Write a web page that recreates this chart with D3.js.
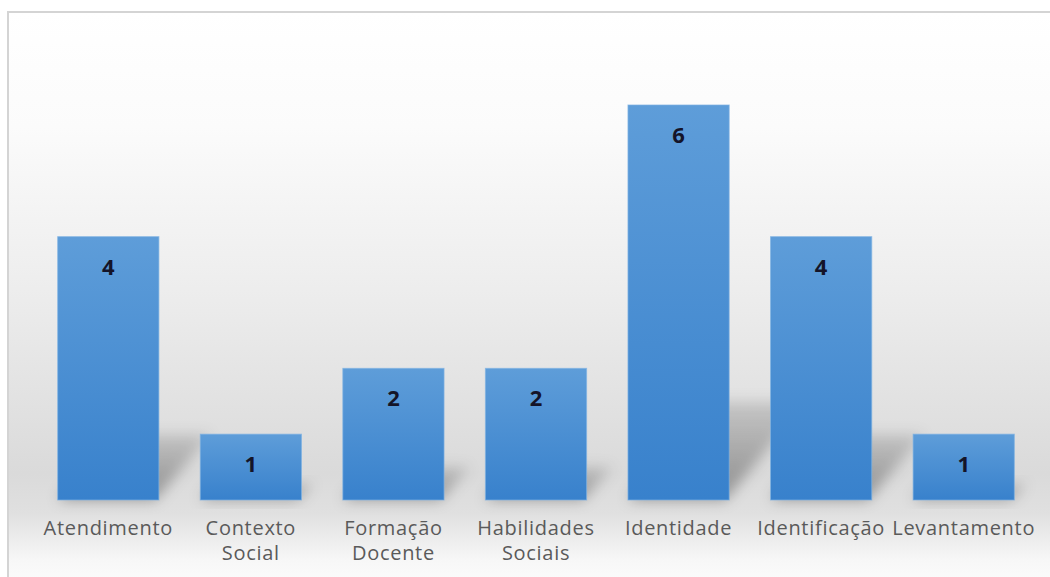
<!DOCTYPE html>
<html>
<head>
<meta charset="utf-8">
<script src="https://cdn.jsdelivr.net/npm/d3@7/dist/d3.min.js"></script>
<style>
  html, body { margin: 0; padding: 0; background: #ffffff; }
  svg { display: block; }
</style>
</head>
<body>
<svg id="chart" width="1050" height="577"></svg>
<script>
// Number of works per theme
const categories = ["Atendimento", "Contexto Social", "Formação Docente", "Habilidades Sociais", "Identidade", "Identificação", "Levantamento"];
const values = [4, 1, 2, 2, 6, 4, 1];

const W = 1050, H = 577;
const svg = d3.select("#chart");
const defs = svg.append("defs");

// Panel background: light at top, greyer towards the baseline, fading out below
const bg = defs.append("linearGradient").attr("id", "bgGrad")
  .attr("x1", 0).attr("y1", 0).attr("x2", 0).attr("y2", 1);
[[0, "#ffffff"], [0.2, "#fbfbfb"], [0.5, "#ececec"], [0.8, "#dadada"],
 [0.87, "#e0e0e0"], [0.95, "#f7f7f7"], [1, "#fdfdfd"]]
  .forEach(([o, c]) => bg.append("stop").attr("offset", o).attr("stop-color", c));

// Bar fill: lighter blue on top, deeper blue at the bottom
const barGrad = defs.append("linearGradient").attr("id", "barGrad")
  .attr("x1", 0).attr("y1", 0).attr("x2", 0).attr("y2", 1);
barGrad.append("stop").attr("offset", 0).attr("stop-color", "#5e9dd9");
barGrad.append("stop").attr("offset", 1).attr("stop-color", "#3881cc");

// Shadow fill fades out towards its far edge
const shGrad = defs.append("linearGradient").attr("id", "shadowGrad")
  .attr("x1", 0).attr("y1", 1).attr("x2", 0).attr("y2", 0);
shGrad.append("stop").attr("offset", 0).attr("stop-color", "#000").attr("stop-opacity", 0.34);
shGrad.append("stop").attr("offset", 1).attr("stop-color", "#000").attr("stop-opacity", 0.12);

// Soft blur for cast shadows
defs.append("filter").attr("id", "shadowBlur")
  .attr("x", "-50%").attr("y", "-50%").attr("width", "200%").attr("height", "200%")
  .append("feGaussianBlur").attr("stdDeviation", 7);

// Chart panel with a thin grey frame on top and left
svg.append("rect").attr("x", 8).attr("y", 12).attr("width", W).attr("height", H)
  .attr("fill", "url(#bgGrad)").attr("stroke", "#d4d4d4").attr("stroke-width", 2);

const x = d3.scaleBand().domain(categories).range([37, 1035]).paddingInner(0.29).paddingOuter(0.145);
const y = d3.scaleLinear().domain([0, 6]).range([500, 105]);
const base = y(0);

// Perspective shadows cast back and to the right
svg.append("g").selectAll("polygon")
  .data(categories.map((c, i) => ({ c, v: values[i] })))
  .join("polygon")
  .attr("points", d => {
    const x0 = x(d.c), x1 = x0 + x.bandwidth();
    const sh = (base - y(d.v)) * 0.25, dx = sh * 0.8;
    return [[x0, base], [x1 - 4, base], [x1 + dx, base - sh], [x0 + dx, base - sh]].map(p => p.join(",")).join(" ");
  })
  .attr("fill", "url(#shadowGrad)").attr("filter", "url(#shadowBlur)");

// Bars
svg.append("g").selectAll("rect")
  .data(categories.map((c, i) => ({ c, v: values[i] })))
  .join("rect")
  .attr("x", d => x(d.c)).attr("y", d => y(d.v))
  .attr("width", x.bandwidth()).attr("height", d => base - y(d.v))
  .attr("fill", "url(#barGrad)")
  .attr("stroke", "#7fb2e3").attr("stroke-width", 1).attr("stroke-opacity", 0.7);

// Value labels inside the top of each bar
svg.append("g").selectAll("text")
  .data(categories.map((c, i) => ({ c, v: values[i] })))
  .join("text")
  .attr("x", d => x(d.c) + x.bandwidth() / 2).attr("y", d => y(d.v) + 38)
  .attr("text-anchor", "middle")
  .attr("font-family", "'Open Sans', sans-serif").attr("font-weight", 700)
  .attr("font-size", 22).attr("fill", "#141428")
  .text(d => d.v);

// Category axis, labels wrapped word by word
const axis = svg.append("g").attr("transform", `translate(0,${base})`)
  .call(d3.axisBottom(x).tickSize(0).tickPadding(0));
axis.select(".domain").remove();
axis.selectAll(".tick text")
  .attr("font-family", "'Open Sans', sans-serif").attr("font-size", 20)
  .attr("letter-spacing", "0.7px").attr("fill", "#5a5a5a")
  .attr("dy", null).attr("y", 35)
  .each(function (d) {
    const t = d3.select(this);
    const words = d.split(" ");
    t.text(null);
    words.forEach((w, i) => t.append("tspan").attr("x", 0).attr("y", 35 + i * 25).text(w));
  });
</script>
</body>
</html>
